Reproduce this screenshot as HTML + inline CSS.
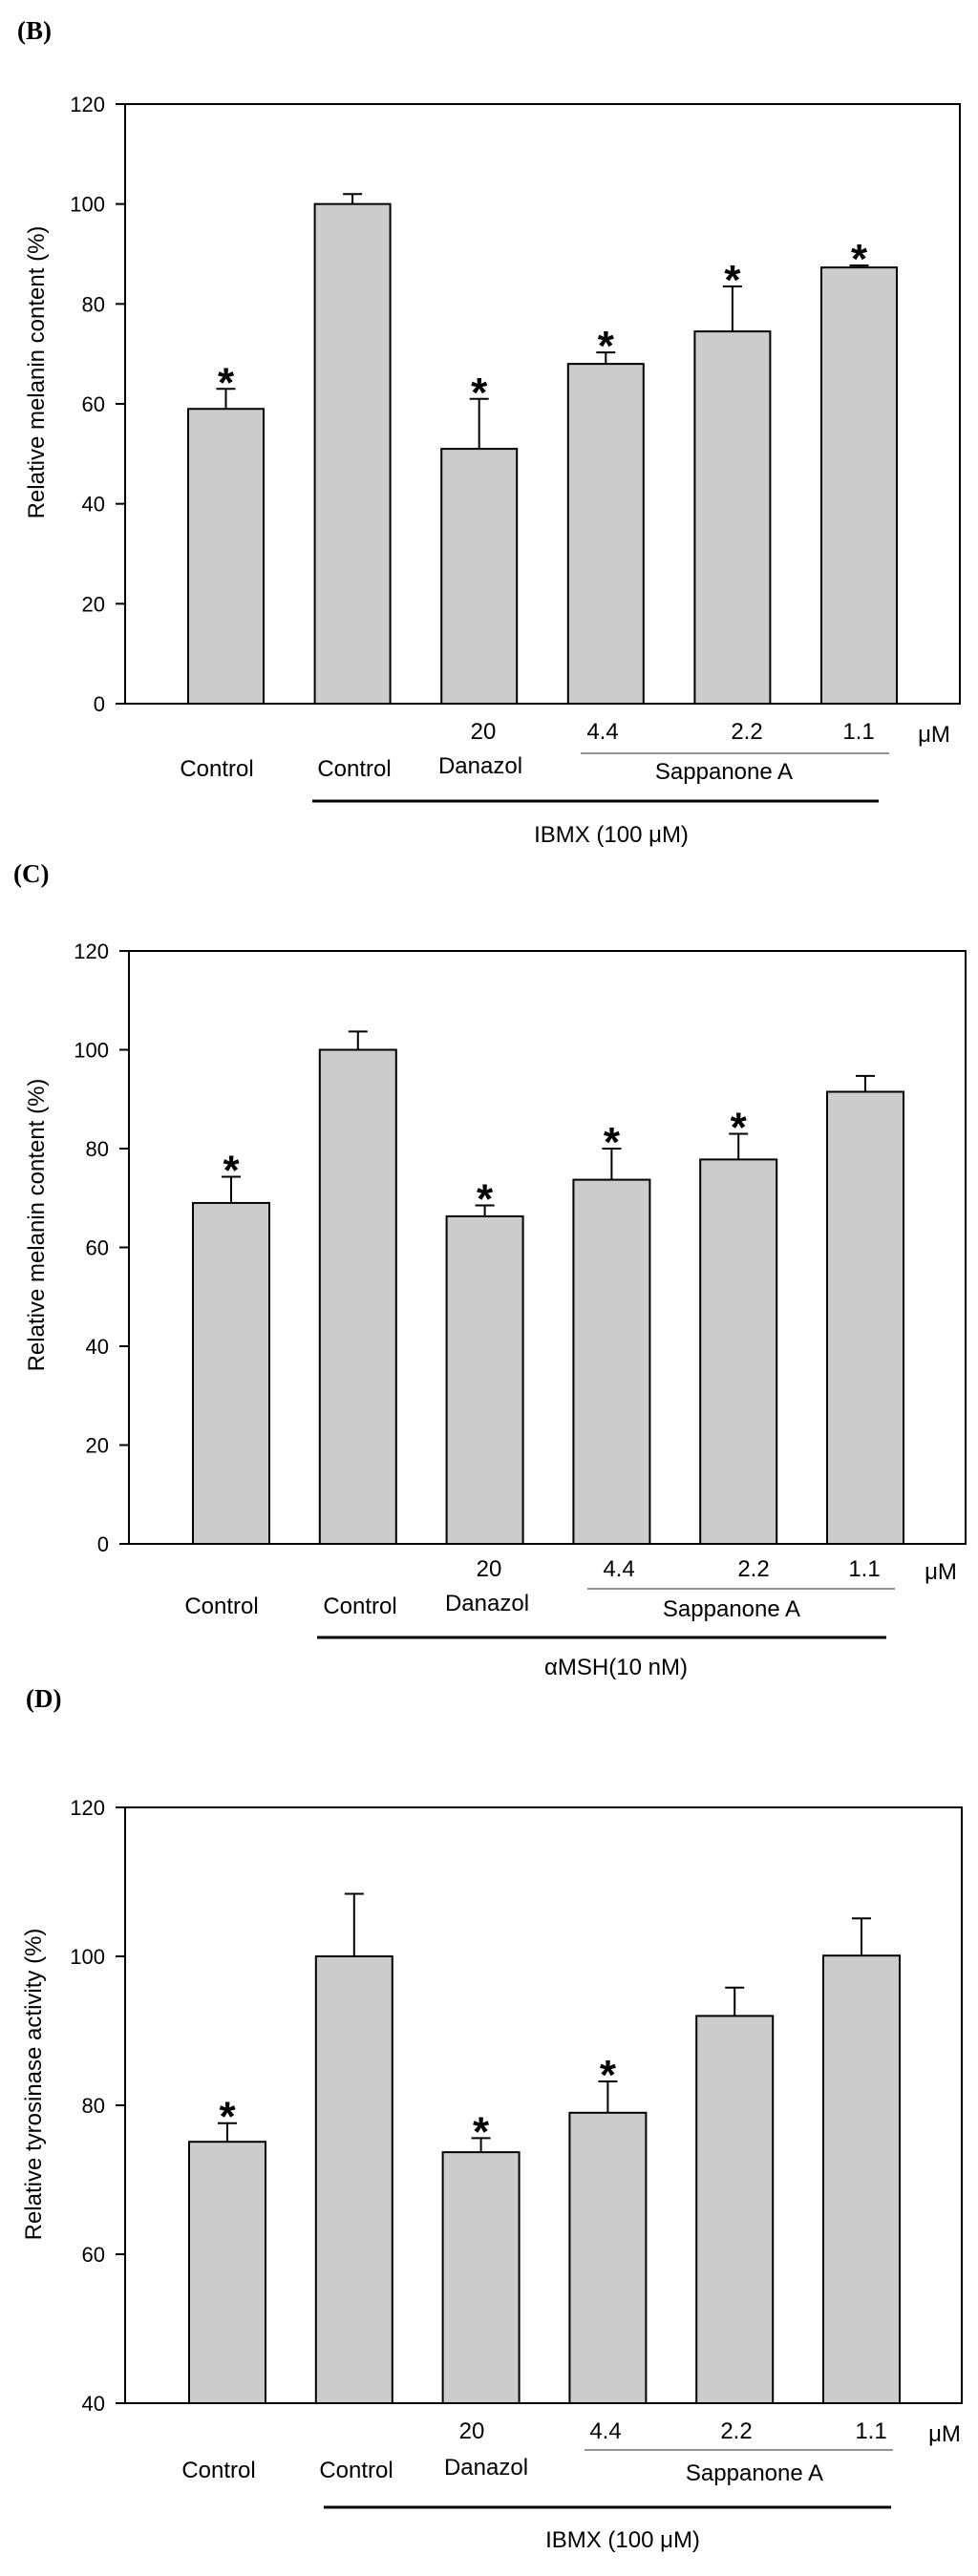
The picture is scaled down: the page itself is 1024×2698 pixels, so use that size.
<!DOCTYPE html>
<html><head><meta charset="utf-8"><style>
html,body{margin:0;padding:0;background:#fff;}
svg{display:block;}
text{font-family:"Liberation Sans",Arial,sans-serif;fill:#000;}
.lbl{font-family:"Liberation Serif",serif;font-weight:bold;}
</style></head><body>
<svg id="fig" width="1024" height="2698" viewBox="0 0 1024 2698" xmlns="http://www.w3.org/2000/svg"></svg>
<script>
const categories = ["Control","Control","Danazol 20","Sappanone A 4.4","Sappanone A 2.2","Sappanone A 1.1"];
const valuesB = [59, 100, 51, 68, 74.5, 87.3];
const errorsB = [63, 102, 61, 70.3, 83.5, 87.7];
const starsB = [true, false, true, true, true, true];
const valuesC = [69, 100, 66.3, 73.7, 77.8, 91.5];
const errorsC = [74.3, 103.7, 68.5, 80, 83, 94.7];
const starsC = [true, false, true, true, true, false];
const valuesD = [75.1, 100, 73.7, 79, 92, 100.1];
const errorsD = [77.6, 108.4, 75.6, 83.2, 95.8, 105.1];
const starsD = [true, false, true, true, false, false];
const ticksMelanin = [0, 20, 40, 60, 80, 100, 120];
const ticksTyr = [40, 60, 80, 100, 120];

const NS = "http://www.w3.org/2000/svg";
const svg = document.getElementById("fig");
function mk(tag, attrs, parent, txt){
  const e = document.createElementNS(NS, tag);
  for (const k in attrs) e.setAttribute(k, attrs[k]);
  if (txt !== undefined) e.textContent = txt;
  (parent || svg).appendChild(e);
  return e;
}

function panel(p){
  const g = mk("g", {});
  
  
  const ymin = p.ticks[0], ymax = p.ticks[p.ticks.length-1];
  const Y = v => p.bottom - (v - ymin) / (ymax - ymin) * (p.bottom - p.top);
  const bw = p.barW;
  const X = i => p.firstBar + i * p.step;
  const pl = mk("text", {x:p.letterX, y:p.letterY, "font-size":27, "class":"lbl"}, g, "(" + p.id + ")");
  
  
  for (let i = 0; i < p.values.length; i++){
    const x0 = X(i);
    const r = mk("rect", {x:x0, y:Y(p.values[i]), width:bw, height:p.bottom - Y(p.values[i]), fill:"#cccccc", stroke:"#000", "stroke-width":2}, g);
    
    
    const cx = x0 + bw/2;
    const e = mk("path", {d:`M${cx},${Y(p.values[i])} V${Y(p.errors[i])} M${cx-10},${Y(p.errors[i])} H${cx+10}`, stroke:"#000", "stroke-width":2, fill:"none"}, g);
    
    
    if (p.stars[i]){
      const s = mk("text", {x:cx, y:Y(p.errors[i]) + 8, "font-size":44, "font-weight":"bold", "text-anchor":"middle"}, g, "*");
      
      
    }
  }
  const f = mk("rect", {x:p.left, y:p.top, width:p.right - p.left, height:p.bottom - p.top, fill:"none", stroke:"#000", "stroke-width":2}, g);
  
  
  p.ticks.forEach(t => {
    const tl = mk("line", {x1:p.left - 10, x2:p.left, y1:Y(t), y2:Y(t), stroke:"#000", "stroke-width":2}, g);
    
    
    const tt = mk("text", {x:p.left - 21, y:Y(t) + 8, "font-size":22, "text-anchor":"end"}, g, String(t));
    
    
  });
  const yt = mk("text", {x:0, y:0, "font-size":24, "text-anchor":"middle", transform:`translate(${p.titleX},${p.titleY}) rotate(-90)`}, g, p.title);
  
  
  const L = p.labels;
  const addT = (name, x, y, s, size) => {
    const t = mk("text", {x:x, y:y, "font-size":size || 24, "text-anchor":"middle"}, g, s);
    
    
  };
  addT('dose-danazol', L.d20, L.doseY, "20");
  addT('dose-4-4', L.d44, L.doseY, "4.4");
  addT('dose-2-2', L.d22, L.doseY, "2.2");
  addT('dose-1-1', L.d11, L.doseY, "1.1");
  addT('unit-label', L.um, L.doseY + 3, "μM");
  addT('control-label', L.c1, L.nameY, "Control");
  addT('stimulated-control-label', L.c2, L.nameY, "Control");
  addT('danazol-label', L.dan, L.nameY - 3, "Danazol");
  addT('sappanone-label', L.sap, L.nameY + 3, "Sappanone A");
  const sl = mk("line", {x1:L.sapL1, x2:L.sapL2, y1:L.sapLineY, y2:L.sapLineY, stroke:"#555", "stroke-width":1.2}, g);
  
  
  const tl2 = mk("line", {x1:L.thL1, x2:L.thL2, y1:L.thY, y2:L.thY, stroke:"#000", "stroke-width":3}, g);
  
  
  addT('treatment-label', L.tr, L.trY, p.treatment);
}

panel({id:"B", letterX:18, letterY:41, left:131, right:1005, top:109, bottom:737, ticks:ticksMelanin,
  firstBar:197, step:132.6, barW:79, values:valuesB, errors:errorsB, stars:starsB,
  title:"Relative melanin content (%)", titleX:46, titleY:390, treatment:"IBMX (100 μM)",
  labels:{d20:506, d44:631, d22:782, d11:899, um:978, doseY:774, c1:227, c2:371, dan:503, sap:758, nameY:813,
    sapL1:608, sapL2:931, sapLineY:789, thL1:327, thL2:920, thY:839, tr:640, trY:882}});

panel({id:"C", letterX:14, letterY:924, left:135, right:1011, top:996, bottom:1617, ticks:ticksMelanin,
  firstBar:202, step:132.8, barW:80, values:valuesC, errors:errorsC, stars:starsC,
  title:"Relative melanin content (%)", titleX:46, titleY:1283, treatment:"αMSH(10 nM)",
  labels:{d20:512, d44:648, d22:789, d11:905, um:985, doseY:1651, c1:232, c2:377, dan:510, sap:766, nameY:1690,
    sapL1:615, sapL2:937, sapLineY:1664, thL1:332, thL2:928, thY:1715, tr:645, trY:1754}});

panel({id:"D", letterX:27, letterY:1788, left:131, right:1007, top:1893, bottom:2517, ticks:ticksTyr,
  firstBar:198, step:132.8, barW:80, values:valuesD, errors:errorsD, stars:starsD,
  title:"Relative tyrosinase activity (%)", titleX:43, titleY:2183, treatment:"IBMX (100 μM)",
  labels:{d20:494, d44:634, d22:771, d11:912, um:989, doseY:2554, c1:229, c2:373, dan:509, sap:790, nameY:2595,
    sapL1:612, sapL2:935, sapLineY:2566, thL1:339, thL2:933, thY:2626, tr:652, trY:2668}});
</script>
</body></html>
